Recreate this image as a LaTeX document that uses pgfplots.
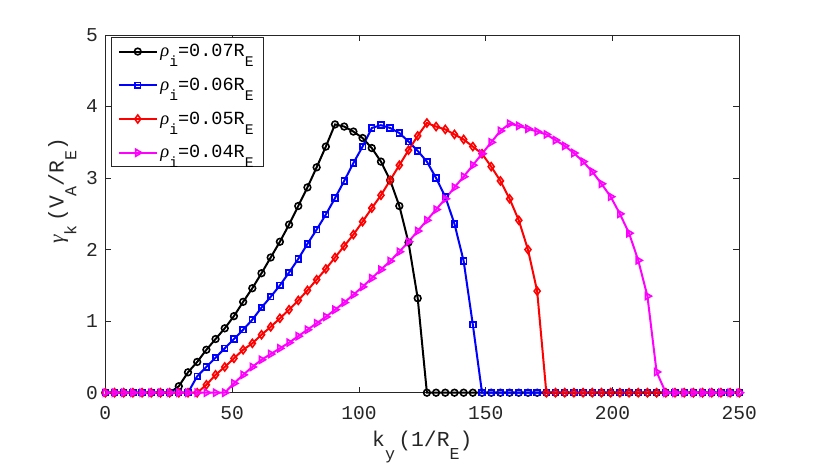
\documentclass[border=0pt]{standalone}
\usepackage{fontspec}
\setmainfont{Liberation Mono}
\newfontfamily\gkfont{Liberation Serif}
\usepackage{pgfplots}
\usepackage{pgfplotstable}
\pgfplotsset{compat=1.18}
\definecolor{axisgray}{RGB}{38,38,38}
\definecolor{mblue}{RGB}{0,0,255}
\definecolor{mred}{RGB}{255,0,0}
\definecolor{mmag}{RGB}{255,0,255}
\newcommand\grk[1]{{\gkfont\itshape #1}}
\newcommand\lsub[1]{\raisebox{-7.5pt}{\fontsize{11}{11}\selectfont #1}}
\newcommand\bsub[1]{\raisebox{-9.5pt}{\fontsize{12.5}{12.5}\selectfont #1}}
\pgfplotstableread{
x a b c d
0 0 0 0 0
3.623 0 0 0 0
7.246 0 0 0 0
10.870 0 0 0 0
14.493 0 0 0 0
18.116 0 0 0 0
21.739 0 0 0 0
25.362 0 0 0 0
28.986 0.09 0 0 0
32.609 0.285 0 0 0
36.232 0.43 0.23 0 0
39.855 0.60 0.36 0.11 0
43.478 0.75 0.49 0.25 0
47.101 0.90 0.62 0.36 0
50.725 1.07 0.75 0.48 0.13
54.348 1.27 0.88 0.60 0.25
57.971 1.46 1.02 0.69 0.36
61.594 1.67 1.19 0.81 0.46
65.217 1.89 1.34 0.92 0.54
68.841 2.11 1.50 1.04 0.62
72.464 2.35 1.68 1.16 0.70
76.087 2.61 1.87 1.29 0.79
79.710 2.87 2.08 1.43 0.88
83.333 3.15 2.28 1.58 0.97
86.957 3.44 2.49 1.73 1.06
90.580 3.75 2.72 1.89 1.16
94.203 3.72 2.96 2.05 1.26
97.826 3.65 3.21 2.21 1.37
101.449 3.56 3.44 2.39 1.48
105.072 3.42 3.70 2.58 1.60
108.696 3.23 3.74 2.76 1.72
112.319 2.97 3.70 2.97 1.84
115.942 2.61 3.63 3.18 1.97
119.565 2.10 3.51 3.39 2.11
123.188 1.32 3.38 3.59 2.26
126.812 0 3.23 3.77 2.41
130.435 0 3.00 3.72 2.56
134.058 0 2.74 3.68 2.71
137.681 0 2.36 3.61 2.87
141.304 0 1.84 3.54 3.02
144.928 0 0.95 3.44 3.18
148.551 0 0 3.34 3.34
152.174 0 0 3.16 3.50
155.797 0 0 2.96 3.66
159.420 0 0 2.71 3.76
163.043 0 0 2.41 3.73
166.667 0 0 2.00 3.69
170.290 0 0 1.42 3.65
173.913 0 0 0 3.61
177.536 0 0 0 3.53
181.159 0 0 0 3.45
184.783 0 0 0 3.35
188.406 0 0 0 3.23
192.029 0 0 0 3.09
195.652 0 0 0 2.92
199.275 0 0 0 2.74
202.899 0 0 0 2.50
206.522 0 0 0 2.23
210.145 0 0 0 1.85
213.768 0 0 0 1.35
217.391 0 0 0 0.29
221.014 0 0 0 0
224.638 0 0 0 0
228.261 0 0 0 0
231.884 0 0 0 0
235.507 0 0 0 0
239.130 0 0 0 0
242.754 0 0 0 0
246.377 0 0 0 0
250.000 0 0 0 0
}\datatable
\begin{document}
\begin{tikzpicture}
\begin{axis}[
  at={(0,0)}, anchor=south west,
  scale only axis, width=475.5pt, height=268.28pt,
  xmin=0, xmax=250, ymin=0, ymax=5,
  xtick={0,50,100,150,200,250},
  ytick={0,1,2,3,4,5},
  clip=false,
  tick align=inside,
  major tick length=4.5pt,
  axis line style={axisgray, line width=0.6pt},
  tick style={axisgray, line width=0.6pt},
  /pgf/number format/assume math mode=true,
  ticklabel style={font=\fontsize{14.7}{16}\selectfont, text=axisgray},
  xticklabel style={yshift=-6.5pt},
  yticklabel style={xshift=-2pt},
  xlabel={k\bsub{y}\hspace{2.5pt}(1/R\bsub{E})},
  ylabel={\grk{γ}\bsub{k}\hspace{2.5pt}(V\bsub{A}/R\bsub{E})},
  label style={font=\fontsize{16}{18}\selectfont, text=axisgray},
  xlabel style={at={(axis description cs:0.5,-0.152)}, anchor=center},
  ylabel style={at={(axis description cs:-0.068,0.565)}, anchor=center},
  legend style={at={(axis description cs:0.0085,0.9936)}, anchor=north west,
    draw=axisgray, line width=0.6pt, font=\fontsize{13.9}{14}\selectfont,
    row sep=10.5pt, inner xsep=5pt, inner ysep=3pt},
  legend cell align=left,
  legend image code/.code={\draw[mark repeat=2,mark phase=2,#1] plot coordinates {(0pt,0pt) (14.25pt,0pt) (28.5pt,0pt)};},
  every axis plot/.append style={line width=1.5pt},
]
\addplot[black, mark=o, mark size=2.5pt, mark options={line width=1.2pt}] table[x=x,y=a] {\datatable};
\addlegendentry{\grk{ρ}\lsub{i}=0.07R\lsub{E}}
\addplot[mblue, mark=square, mark size=2.1pt, mark options={line width=1.3pt}] table[x=x,y=b] {\datatable};
\addlegendentry{\grk{ρ}\lsub{i}=0.06R\lsub{E}}
\addplot[mred, mark=diamond, mark size=3pt, mark options={line width=1.2pt}] table[x=x,y=c] {\datatable};
\addlegendentry{\grk{ρ}\lsub{i}=0.05R\lsub{E}}
\addplot[mmag, mark=triangle, mark size=3pt, mark options={line width=1.2pt, rotate=-90}] table[x=x,y=d] {\datatable};
\addlegendentry{\grk{ρ}\lsub{i}=0.04R\lsub{E}}
\end{axis}
\pgfresetboundingbox
\path[use as bounding box] (-78.98pt,-52.73pt) rectangle (533.78pt,294.53pt);
\end{tikzpicture}
\end{document}
